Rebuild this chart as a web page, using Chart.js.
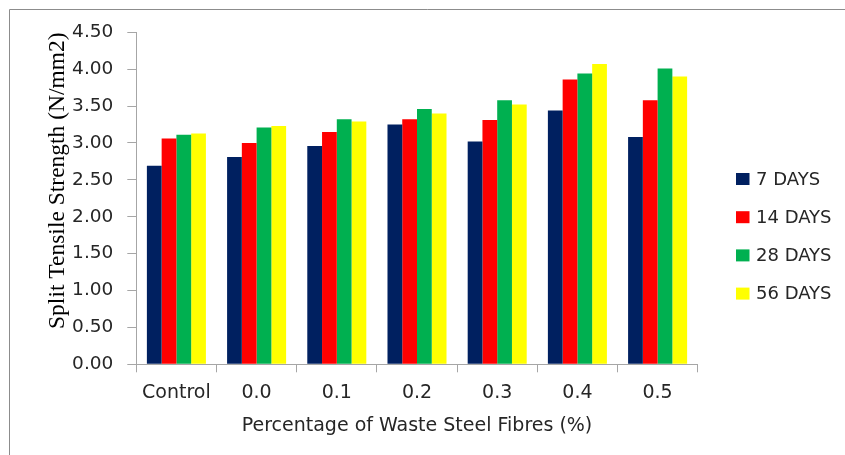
<!DOCTYPE html>
<html>
<head>
<meta charset="utf-8">
<script src="https://cdn.jsdelivr.net/npm/chart.js@4"></script>
<style>
  html, body { margin: 0; padding: 0; background: #ffffff; }
  #wrap { width: 845px; height: 455px; position: relative; }
</style>
</head>
<body>
<div id="wrap"><canvas id="c" width="845" height="455"></canvas></div>
<script>
// Split tensile strength (N/mm2) by waste steel fibre content and curing age
const categories = ['Control', '0.0', '0.1', '0.2', '0.3', '0.4', '0.5'];
const seriesNames = ['7 DAYS', '14 DAYS', '28 DAYS', '56 DAYS'];
const days7  = [2.69, 2.81, 2.96, 3.25, 3.02, 3.44, 3.08];
const days14 = [3.06, 3.00, 3.15, 3.32, 3.31, 3.86, 3.58];
const days28 = [3.11, 3.21, 3.32, 3.46, 3.58, 3.94, 4.01];
const days56 = [3.13, 3.23, 3.29, 3.40, 3.52, 4.07, 3.90];
const yTicks = [0, 0.5, 1, 1.5, 2, 2.5, 3, 3.5, 4, 4.5];
const seriesColors = ['#002060', '#FF0000', '#00B050', '#FFFF00'];

const seriesValues = [days7, days14, days28, days56];
const axisColor = '#a6a6a6';
const textColor = '#262626';
const sansFont = "'DejaVu Sans', sans-serif";

// Thin gray frame around the figure (top and left edges)
const framePlugin = {
  id: 'frame',
  beforeDraw(chart) {
    const ctx = chart.ctx;
    ctx.save();
    ctx.strokeStyle = '#8c8c8c';
    ctx.lineWidth = 1;
    ctx.beginPath();
    ctx.moveTo(9.5, 455);
    ctx.lineTo(9.5, 9.5);
    ctx.lineTo(845, 9.5);
    ctx.stroke();
    ctx.restore();
  }
};

// Legend column on the right, built from the dataset labels and colours
const sideLegend = {
  id: 'sideLegend',
  afterDraw(chart) {
    const ctx = chart.ctx;
    ctx.save();
    ctx.font = '18px ' + sansFont;
    ctx.textBaseline = 'middle';
    ctx.textAlign = 'left';
    chart.data.datasets.forEach((ds, i) => {
      const cy = 179 + i * 38.2;
      ctx.fillStyle = ds.backgroundColor;
      ctx.fillRect(736, cy - 6, 13.5, 12);
      ctx.fillStyle = textColor;
      ctx.fillText(ds.label, 756, cy + 1);
    });
    ctx.restore();
  }
};

new Chart(document.getElementById('c'), {
  type: 'bar',
  data: {
    labels: categories,
    datasets: seriesNames.map((name, i) => ({
      label: name,
      data: seriesValues[i],
      backgroundColor: seriesColors[i],
      borderWidth: 0,
      categoryPercentage: 0.736,
      barPercentage: 1.0
    }))
  },
  options: {
    responsive: false,
    devicePixelRatio: 1,
    animation: false,
    layout: { padding: { top: 32.3, right: 147.3, bottom: 0, left: 0 } },
    plugins: {
      legend: { display: false },
      tooltip: { enabled: false }
    },
    scales: {
      x: {
        afterFit(scale) { scale.height = 90.7; },
        grid: {
          display: true,
          drawOnChartArea: false,
          offset: true,
          tickLength: 8,
          color: axisColor
        },
        border: { color: axisColor },
        ticks: {
          color: textColor,
          font: { family: sansFont, size: 19 },
          padding: 9
        },
        title: {
          display: true,
          text: 'Percentage of Waste Steel Fibres (%)',
          color: textColor,
          font: { family: sansFont, size: 19 },
          padding: { top: 0, bottom: 18 }
        }
      },
      y: {
        min: 0,
        max: 4.5,
        afterFit(scale) { scale.width = 136.3; },
        afterBuildTicks(scale) { scale.ticks = yTicks.map(v => ({ value: v })); },
        grid: {
          display: true,
          drawOnChartArea: false,
          tickLength: 9,
          color: axisColor
        },
        border: { color: axisColor },
        ticks: {
          color: textColor,
          font: { family: sansFont, size: 18.5 },
          padding: 14,
          callback: v => Number(v).toFixed(2)
        },
        title: {
          display: true,
          align: 'end',
          text: 'Split Tensile Strength (N/mm2)',
          color: '#000000',
          font: { family: "'Liberation Serif', 'Times New Roman', serif", size: 23.5 },
          padding: { top: 43.5, bottom: 0 }
        }
      }
    }
  },
  plugins: [framePlugin, sideLegend]
});
</script>
</body>
</html>
